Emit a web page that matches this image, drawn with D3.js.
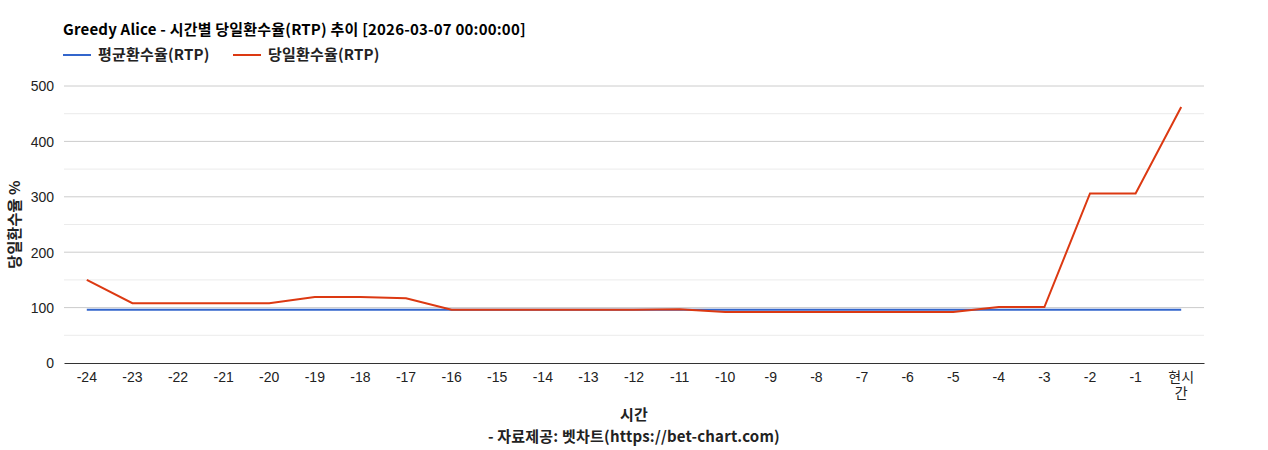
<!DOCTYPE html>
<html>
<head>
<meta charset="utf-8">
<script src="https://cdn.jsdelivr.net/npm/d3@7"></script>
<style>
  body { margin: 0; background: #fff; }
  text { font-family: "Noto Sans CJK KR", "Liberation Sans", sans-serif; }
  .tick text { font-family: "Liberation Sans", "Noto Sans CJK KR", sans-serif; font-size: 14px; fill: #222; }
  .lbl { font-size: 15px; font-weight: bold; letter-spacing: 0.2px; }
</style>
</head>
<body>
<svg id="canvas"></svg>
<script>
const hours = ["-24","-23","-22","-21","-20","-19","-18","-17","-16","-15","-14","-13","-12","-11","-10","-9","-8","-7","-6","-5","-4","-3","-2","-1","현시간"];
const avgRtp = [96,96,96,96,96,96,96,96,96,96,96,96,96,96,96,96,96,96,96,96,96,96,96,96,96];
const dayRtp = [150,108,108,108,108,119,119,117,96,96,96,96,96,97,92,92,92,92,92,92,101,101,306,306,462];
const yTicks = [0,100,200,300,400,500];
const yMinor = [50,150,250,350,450];

const width = 1268, height = 450;
const margin = { top: 86, right: 64, bottom: 87, left: 64 };
const w = width - margin.left - margin.right;
const h = height - margin.top - margin.bottom;

const svg = d3.select("#canvas").attr("width", width).attr("height", height);
const g = svg.append("g").attr("transform", `translate(${margin.left},${margin.top})`);

const x = d3.scaleBand().domain(hours).range([0, w]);
const y = d3.scaleLinear().domain([0, 500]).range([h, 0]);

// minor + major gridlines
g.selectAll(".minor").data(yMinor).enter().append("line")
  .attr("x1", 0).attr("x2", w)
  .attr("y1", d => y(d)).attr("y2", d => y(d))
  .attr("stroke", "#ebebeb");
g.selectAll(".major").data(yTicks.slice(1)).enter().append("line")
  .attr("x1", 0).attr("x2", w)
  .attr("y1", d => y(d)).attr("y2", d => y(d))
  .attr("stroke", "#cccccc");

// y axis labels
const yAxis = g.append("g").call(d3.axisLeft(y).tickValues(yTicks).tickSize(0).tickPadding(10));
yAxis.select(".domain").remove();
yAxis.selectAll("text").attr("dy", "0.35em");

// x axis
const xAxis = g.append("g").attr("transform", `translate(0,${h})`)
  .call(d3.axisBottom(x).tickSize(0).tickPadding(9));
xAxis.select(".domain").attr("stroke", "#333").attr("stroke-width", 1);
xAxis.selectAll("text").each(function (d) {
  if (d === "현시간") {
    const t = d3.select(this).text(null);
    t.append("tspan").attr("x", 0).attr("dy", "0.71em").text("현시");
    t.append("tspan").attr("x", 0).attr("dy", "1.15em").text("간");
  }
});

const line = d3.line()
  .x((d, i) => x(hours[i]) + x.bandwidth() / 2)
  .y(d => y(d));

g.append("path").datum(avgRtp)
  .attr("fill", "none").attr("stroke", "#3366cc").attr("stroke-width", 2)
  .attr("d", line);
g.append("path").datum(dayRtp)
  .attr("fill", "none").attr("stroke", "#dc3912").attr("stroke-width", 2)
  .attr("d", line);

// title
svg.append("text").attr("class", "lbl").attr("x", 63).attr("y", 35).attr("fill", "#000")
  .text("Greedy Alice - 시간별 당일환수율(RTP) 추이 [2026-03-07 00:00:00]");

// legend
const legend = [
  { name: "평균환수율(RTP)", color: "#3366cc", x: 63 },
  { name: "당일환수율(RTP)", color: "#dc3912", x: 233 }
];
legend.forEach(l => {
  svg.append("line").attr("x1", l.x).attr("x2", l.x + 28)
    .attr("y1", 55).attr("y2", 55)
    .attr("stroke", l.color).attr("stroke-width", 2);
  svg.append("text").attr("class", "lbl").attr("x", l.x + 35).attr("y", 60).attr("fill", "#222")
    .text(l.name);
});

// axis titles
svg.append("text").attr("class", "lbl").attr("x", margin.left + w / 2).attr("y", 420)
  .attr("text-anchor", "middle").attr("fill", "#222")
  .text("시간");
svg.append("text").attr("class", "lbl").attr("x", margin.left + w / 2).attr("y", 442)
  .attr("text-anchor", "middle").attr("fill", "#222")
  .text("- 자료제공: 벳차트(https://bet-chart.com)");
svg.append("text").attr("class", "lbl")
  .attr("transform", `translate(20,${margin.top + h / 2}) rotate(-90)`)
  .attr("text-anchor", "middle").attr("fill", "#222")
  .text("당일환수율 %");
</script>
</body>
</html>
